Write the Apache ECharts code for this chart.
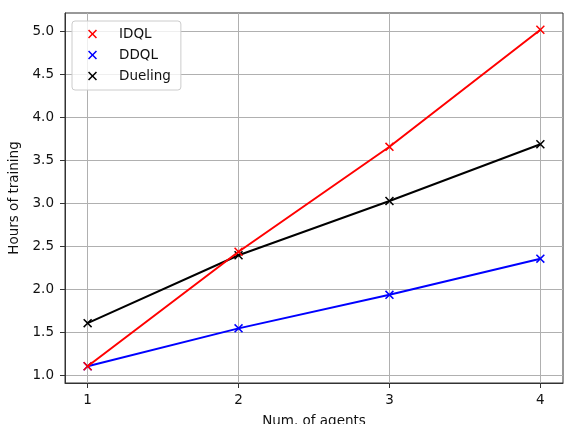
<!DOCTYPE html>
<html>
<head>
<meta charset="utf-8">
<script src="https://cdn.jsdelivr.net/npm/echarts@6/dist/echarts.min.js"></script>
<style>html,body{margin:0;padding:0;background:#fff;}#c{width:565px;height:424px;}</style>
</head>
<body>
<div id="c"></div>
<script>
const agents = [1, 2, 3, 4];
const idql = [1.11, 2.44, 3.66, 5.02];
const ddql = [1.11, 1.55, 1.94, 2.36];
const dueling = [1.61, 2.40, 3.03, 3.69];
const xTicks = [1, 2, 3, 4];
const yTicks = [1.0, 1.5, 2.0, 2.5, 3.0, 3.5, 4.0, 4.5, 5.0];
const seriesNames = ['IDQL', 'DDQL', 'Dueling'];
const colors = ['#ff0000', '#0000ff', '#000000'];

const X = 'path://M1.2,0 L5,3.8 L8.8,0 L10,1.2 L6.2,5 L10,8.8 L8.8,10 L5,6.2 L1.2,10 L0,8.8 L3.8,5 L0,1.2 Z';
const font = 'DejaVu Sans';
const fs = 13.5;
const pairs = arr => agents.map((a, i) => [a, arr[i]]);
const datas = [idql, ddql, dueling];

const chart = echarts.init(document.getElementById('c'), null, {renderer: 'canvas'});
chart.setOption({
  animation: false,
  backgroundColor: '#fff',
  grid: {left: 65, right: 2, top: 13, bottom: 41, outerBoundsMode: 'none', containLabel: false,
         show: true, borderColor: '#333', borderWidth: 1, backgroundColor: 'transparent'},
  legend: {
    orient: 'vertical', left: 72, top: 21,
    data: seriesNames.map((n, i) => ({name: n, icon: X, itemStyle: {color: colors[i]}})),
    itemWidth: 9, itemHeight: 9, itemGap: 7,
    backgroundColor: 'rgba(255,255,255,0.8)', borderColor: '#cccccc', borderWidth: 1, borderRadius: 3,
    padding: [6, 10, 7, 16],
    textStyle: {fontFamily: font, fontSize: fs, color: '#111', padding: [0, 0, 0, 17]}
  },
  xAxis: {
    type: 'value', min: 0.85, max: 4.15,
    name: 'Num. of agents', nameLocation: 'middle', nameGap: 31,
    nameTextStyle: {fontFamily: font, fontSize: fs, color: '#111'},
    axisLine: {show: true, lineStyle: {color: '#333', width: 1}},
    axisTick: {show: true, customValues: xTicks, length: 5, lineStyle: {color: '#333'}},
    axisLabel: {customValues: xTicks, fontFamily: font, fontSize: fs, color: '#111', margin: 10, formatter: v => String(v)},
    splitLine: {show: true, lineStyle: {color: '#b0b0b0', width: 1}}
  },
  yAxis: {
    type: 'value', min: 0.915, max: 5.215,
    name: 'Hours of training', nameLocation: 'middle', nameGap: 41,
    nameTextStyle: {fontFamily: font, fontSize: fs, color: '#111'},
    axisLine: {show: true, lineStyle: {color: '#333', width: 1}},
    axisTick: {show: true, customValues: yTicks, length: 5, lineStyle: {color: '#333'}},
    axisLabel: {customValues: yTicks, fontFamily: font, fontSize: fs, color: '#111', margin: 11, formatter: v => v.toFixed(1)},
    splitLine: {show: true, lineStyle: {color: '#b0b0b0', width: 1}}
  },
  series: seriesNames.map((n, i) => ({
    name: n, type: 'line', data: pairs(datas[i]),
    symbol: X, symbolSize: 9, showSymbol: true,
    lineStyle: {color: colors[i], width: 2},
    itemStyle: {color: colors[i]},
    z: 3 - i
  }))
});
</script>
</body>
</html>
